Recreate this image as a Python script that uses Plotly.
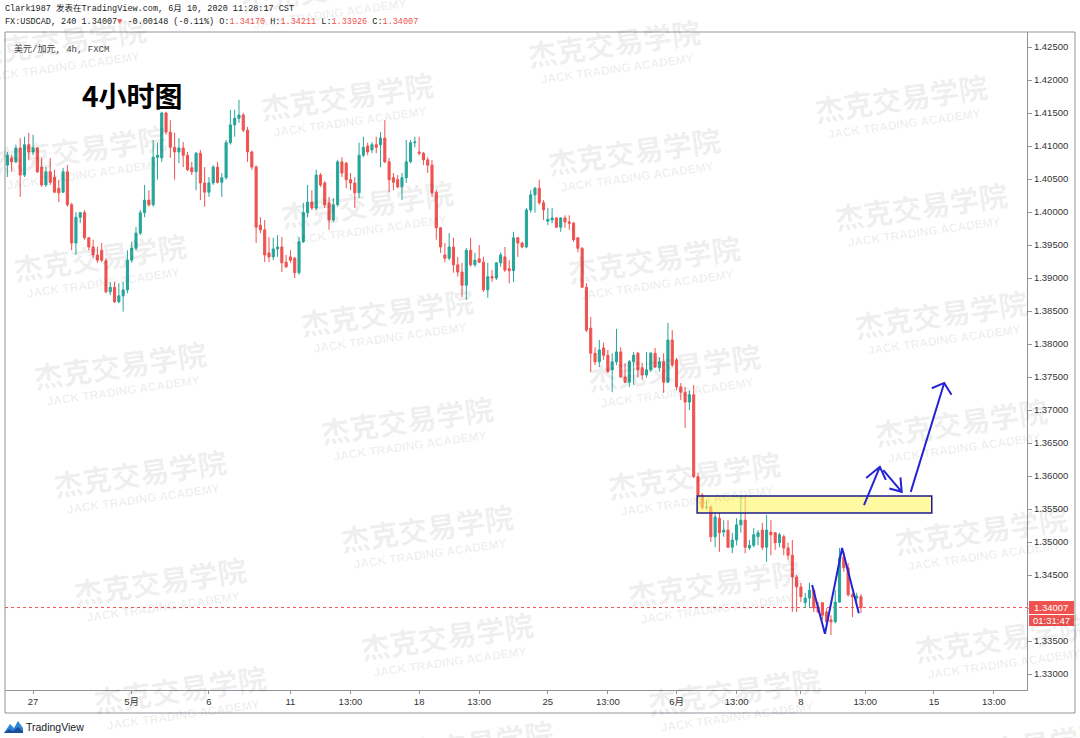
import plotly.graph_objects as go

# ---------------- data (USDCAD 4h, FXCM) ----------------
opens = [1.4071,1.4082,1.4076,1.4097,1.4056,1.4102,1.4091,1.4097,1.4068,1.4041,
         1.4061,1.4053,1.4036,1.4030,1.4061,1.4011,1.3953,1.3992,1.3999,1.3961,
         1.3947,1.3935,1.3942,1.3926,1.3879,1.3886,1.3864,1.3873,1.3882,1.3927,
         1.3945,1.3968,1.3999,1.4018,1.4011,1.4083,1.4082,1.4150,1.4121,1.4098,
         1.4091,1.4097,1.4086,1.4067,1.4061,1.4089,1.4044,1.4030,1.4044,1.4068,
         1.4045,1.4052,1.4105,1.4132,1.4142,1.4147,1.4124,1.4091,1.4068,1.3980,
         1.3973,1.3938,1.3932,1.3944,1.3947,1.3924,1.3932,1.3930,1.3908,1.3955,
         1.3999,1.4015,1.4006,1.4056,1.4044,1.4014,1.3988,1.4011,1.4076,1.4074,
         1.4049,1.4044,1.4029,1.4086,1.4100,1.4094,1.4102,1.4102,1.4112,1.4076,
         1.4052,1.4049,1.4038,1.4052,1.4076,1.4105,1.4091,1.4089,1.4079,1.4071,
         1.4030,1.3976,1.3935,1.3930,1.3947,1.3920,1.3909,1.3889,1.3942,1.3920,
         1.3929,1.3924,1.3882,1.3902,1.3900,1.3923,1.3932,1.3914,1.3911,1.3961,
         1.3953,1.3947,1.4003,1.4026,1.4036,1.4014,1.3986,1.3988,1.3991,1.3977,
         1.3991,1.3985,1.3983,1.3961,1.3945,1.3886,1.3824,1.3786,1.3773,1.3794,
         1.3783,1.3761,1.3773,1.3788,1.3750,1.3742,1.3773,1.3786,1.3764,1.3753,
         1.3761,1.3786,1.3764,1.3773,1.3742,1.3806,1.3776,1.3735,1.3727,1.3712,
         1.3723,1.3599,1.3571,1.3552,1.3553,1.3508,1.3536,1.3515,1.3518,1.3492,
         1.3503,1.3526,1.3533,1.3491,1.3495,1.3508,1.3518,1.3492,1.3515,1.3514,
         1.3499,1.3508,1.3491,1.3480,1.3447,1.3432,1.3408,1.3415,1.3427,1.3402,
         1.3408,1.3394,1.3382,1.3379,1.3409,1.3477,1.3461,1.3420,1.3415,1.34170]
highs = [1.4091,1.4086,1.4102,1.4112,1.4114,1.4120,1.4117,1.4098,1.4082,1.4068,
         1.4082,1.4064,1.4049,1.4067,1.4071,1.4014,1.4000,1.4000,1.4003,1.3962,
         1.3958,1.3947,1.3953,1.3930,1.3894,1.3894,1.3892,1.3894,1.3942,1.3955,
         1.3977,1.4003,1.4041,1.4033,1.4109,1.4105,1.4152,1.4152,1.4139,1.4120,
         1.4112,1.4106,1.4091,1.4076,1.4091,1.4094,1.4068,1.4053,1.4071,1.4076,
         1.4059,1.4109,1.4155,1.4155,1.4170,1.4150,1.4129,1.4093,1.4071,1.3992,
         1.3988,1.3962,1.3961,1.3965,1.3962,1.3935,1.3942,1.3932,1.3962,1.4014,
         1.4041,1.4033,1.4064,1.4059,1.4047,1.4023,1.4021,1.4079,1.4083,1.4076,
         1.4059,1.4053,1.4105,1.4114,1.4105,1.4106,1.4114,1.4121,1.4139,1.4082,
         1.4059,1.4056,1.4059,1.4109,1.4109,1.4114,1.4114,1.4091,1.4083,1.4079,
         1.4033,1.3977,1.3953,1.3968,1.3961,1.3932,1.3923,1.3945,1.3961,1.3938,
         1.3950,1.3932,1.3923,1.3912,1.3924,1.3939,1.3947,1.3927,1.3970,1.3962,
         1.3955,1.4006,1.4033,1.4038,1.4049,1.4018,1.4006,1.4006,1.3992,1.3992,
         1.3995,1.3995,1.3985,1.3962,1.3947,1.3892,1.3841,1.3795,1.3806,1.3802,
         1.3791,1.3786,1.3823,1.3795,1.3771,1.3776,1.3788,1.3788,1.3771,1.3788,
         1.3788,1.3794,1.3780,1.3786,1.3832,1.3821,1.3779,1.3741,1.3735,1.3730,
         1.3738,1.3605,1.3574,1.3564,1.3556,1.3544,1.3544,1.3533,1.3533,1.3514,
         1.3536,1.3570,1.3568,1.3503,1.3521,1.3518,1.3529,1.3541,1.3533,1.3515,
         1.3514,1.3511,1.3499,1.3503,1.3450,1.3438,1.3423,1.3438,1.3430,1.3409,
         1.3409,1.3400,1.3389,1.3427,1.3491,1.3485,1.3468,1.3423,1.3423,1.34211]
lows = [1.4053,1.4061,1.4074,1.4023,1.4053,1.4079,1.4086,1.4059,1.4038,1.4038,
        1.4041,1.4029,1.4015,1.4029,1.4008,1.3942,1.3935,1.3983,1.3958,1.3942,
        1.3930,1.3923,1.3924,1.3877,1.3874,1.3862,1.3862,1.3849,1.3877,1.3923,
        1.3942,1.3965,1.3992,1.4008,1.4008,1.4049,1.4076,1.4117,1.4082,1.4049,
        1.4074,1.4068,1.4062,1.4056,1.4033,1.4018,1.4008,1.4023,1.4041,1.4043,
        1.4023,1.4049,1.4102,1.4114,1.4135,1.4121,1.4076,1.4064,1.3953,1.3968,
        1.3924,1.3924,1.3927,1.3932,1.3909,1.3915,1.3923,1.3900,1.3905,1.3953,
        1.3992,1.4003,1.4003,1.4038,1.4006,1.3973,1.3985,1.4008,1.4053,1.4036,
        1.4033,1.4006,1.4021,1.4083,1.4086,1.4089,1.4089,1.4068,1.4074,1.4030,
        1.4033,1.4036,1.4018,1.4044,1.4074,1.4098,1.4086,1.4071,1.4059,1.4023,
        1.3958,1.3938,1.3924,1.3927,1.3908,1.3902,1.3871,1.3867,1.3917,1.3917,
        1.3923,1.3879,1.3870,1.3894,1.3897,1.3917,1.3909,1.3892,1.3894,1.3932,
        1.3945,1.3945,1.3999,1.3999,1.4011,1.3988,1.3980,1.3983,1.3976,1.3970,
        1.3976,1.3973,1.3955,1.3939,1.3885,1.3818,1.3758,1.3768,1.3765,1.3776,
        1.3756,1.3727,1.3768,1.3749,1.3741,1.3735,1.3738,1.3749,1.3746,1.3749,
        1.3758,1.3764,1.3758,1.3726,1.3741,1.3765,1.3730,1.3715,1.3673,1.3700,
        1.3597,1.3564,1.3549,1.3549,1.3500,1.3492,1.3485,1.3508,1.3491,1.3483,
        1.3495,1.3514,1.3483,1.3488,1.3492,1.3495,1.3488,1.3470,1.3480,1.3488,
        1.3492,1.3480,1.3473,1.3394,1.3394,1.3409,1.3400,1.3400,1.3394,1.3392,
        1.3382,1.3374,1.3359,1.3377,1.3408,1.3455,1.3417,1.3386,1.3406,1.33926]
closes = [1.4086,1.4076,1.4097,1.4056,1.4102,1.4091,1.4097,1.4061,1.4041,1.4061,
          1.4045,1.4030,1.4029,1.4061,1.4011,1.3953,1.3992,1.3999,1.3961,1.3947,
          1.3935,1.3927,1.3927,1.3879,1.3886,1.3864,1.3873,1.3882,1.3927,1.3945,
          1.3968,1.3999,1.4018,1.4011,1.4083,1.4086,1.4150,1.4121,1.4098,1.4091,
          1.4097,1.4086,1.4064,1.4061,1.4089,1.4044,1.4030,1.4044,1.4068,1.4045,
          1.4052,1.4105,1.4132,1.4142,1.4147,1.4124,1.4091,1.4068,1.3977,1.3973,
          1.3935,1.3932,1.3944,1.3947,1.3923,1.3917,1.3927,1.3908,1.3955,1.3999,
          1.4015,1.4006,1.4056,1.4041,1.4011,1.3988,1.4011,1.4076,1.4059,1.4049,
          1.4044,1.4029,1.4086,1.4098,1.4091,1.4102,1.4098,1.4112,1.4076,1.4049,
          1.4045,1.4038,1.4052,1.4076,1.4105,1.4106,1.4089,1.4079,1.4071,1.4029,
          1.3976,1.3947,1.3930,1.3947,1.3920,1.3909,1.3889,1.3942,1.3920,1.3927,
          1.3924,1.3882,1.3902,1.3900,1.3923,1.3935,1.3912,1.3911,1.3961,1.3953,
          1.3947,1.4003,1.4026,1.4036,1.4014,1.4003,1.3989,1.3991,1.3977,1.3991,
          1.3985,1.3983,1.3958,1.3945,1.3886,1.3821,1.3786,1.3773,1.3791,1.3783,
          1.3758,1.3773,1.3788,1.3750,1.3742,1.3773,1.3783,1.3761,1.3753,1.3761,
          1.3786,1.3765,1.3773,1.3742,1.3806,1.3768,1.3735,1.3727,1.3712,1.3723,
          1.3599,1.3571,1.3552,1.3553,1.3508,1.3538,1.3514,1.3518,1.3492,1.3503,
          1.3526,1.3533,1.3492,1.3495,1.3511,1.3514,1.3492,1.3518,1.3511,1.3499,
          1.3511,1.3491,1.3480,1.3447,1.3432,1.3417,1.3415,1.3427,1.3400,1.3394,
          1.3389,1.3379,1.3379,1.3409,1.3476,1.3461,1.3420,1.3417,1.3418,1.34007]
candle_index = list(range(len(closes)))

tick_index = [6, 29, 47, 66, 80, 96, 110, 126, 140, 156, 170, 185, 200, 216, 230]
tick_labels = ["27", "5月", "6", "11", "13:00", "18", "13:00", "25", "13:00",
               "6月", "13:00", "8", "13:00", "15", "13:00"]

last_price = 1.34007
countdown = "01:31:47"
zone_low, zone_high = 1.35439, 1.35697
zone_start, zone_end = 160.8, 215.5
zigzag = [(187.6, 1.3435), (190.6, 1.3361), (194.6, 1.3491), (198.5, 1.3392)]
arrows = [  # shaft start, tip, wing1, wing2
    ((199.7, 1.3556), (203.4, 1.3614), (200.2, 1.3597), (204.8, 1.3594)),
    ((204.2, 1.3609), (208.5, 1.3576), (205.6, 1.3581), (208.2, 1.3598)),
    ((210.6, 1.3576), (218.4, 1.3741), (215.5, 1.3733), (220.1, 1.3723)),
]

# ---------------- styling ----------------
W, H = 1080, 738
L, R, T, B = 5, 53, 32, 48
PW, PH = W - L - R, H - T - B
UP, DOWN = "#26a69a", "#ef5350"
FRAME = "#8f939c"
BLUE = "#2424d4"
MONO = "Liberation Mono, DejaVu Sans Mono, Noto Sans CJK SC, monospace"
SANS = "Liberation Sans, Arial, Noto Sans CJK SC, sans-serif"
WM = "rgba(0,0,0,0.075)"


def px(x):
    return (x - L) / PW


def py(y):
    return (H - B - y) / PH


fig = go.Figure()
fig.add_trace(go.Candlestick(
    x=candle_index, open=opens, high=highs, low=lows, close=closes,
    increasing=dict(line=dict(color=UP, width=1), fillcolor=UP),
    decreasing=dict(line=dict(color=DOWN, width=1), fillcolor=DOWN),
    whiskerwidth=0, hoverinfo="skip", showlegend=False))

shapes = []
# current price dotted line
shapes.append(dict(type="line", xref="paper", yref="y", x0=0, x1=1,
                   y0=last_price, y1=last_price,
                   line=dict(color=DOWN, width=1, dash="dot"), layer="below"))
# yellow zone
shapes.append(dict(type="rect", xref="x", yref="y", x0=zone_start, x1=zone_end,
                   y0=zone_low, y1=zone_high, fillcolor="rgba(255,245,100,0.6)",
                   line=dict(color="#1c1c8c", width=1.5), layer="above"))
# zigzag
path = "M " + " L ".join(f"{a},{b}" for a, b in zigzag)
shapes.append(dict(type="path", xref="x", yref="y", path=path,
                   line=dict(color=BLUE, width=2)))
for s, t, w1, w2 in arrows:
    p = f"M {s[0]},{s[1]} L {t[0]},{t[1]} M {w1[0]},{w1[1]} L {t[0]},{t[1]} L {w2[0]},{w2[1]}"
    shapes.append(dict(type="path", xref="x", yref="y", path=p,
                       line=dict(color=BLUE, width=2)))
# outer frame
shapes.append(dict(type="rect", xref="paper", yref="paper", x0=px(5), x1=px(1075),
                   y0=py(713), y1=py(32), line=dict(color=FRAME, width=1)))
# price label boxes
shapes.append(dict(type="rect", xref="paper", yref="paper", x0=px(1029), x1=px(1074),
                   y0=py(614), y1=py(601), fillcolor=DOWN, line=dict(width=0)))
shapes.append(dict(type="rect", xref="paper", yref="paper", x0=px(1029), x1=px(1074),
                   y0=py(626), y1=py(615), fillcolor=DOWN, line=dict(width=0)))
# TradingView logo icon
icon = [(4, 733), (10, 724), (14, 728), (18, 721), (23, 728), (23, 733)]
shapes.append(dict(type="path", xref="paper", yref="paper",
                   path="M " + " L ".join(f"{px(a)},{py(b)}" for a, b in icon) + " Z",
                   fillcolor="#2f86d6", line=dict(width=0)))
icon2 = [(4, 733), (9, 729), (13, 731), (18, 727), (23, 731), (23, 733)]
shapes.append(dict(type="path", xref="paper", yref="paper",
                   path="M " + " L ".join(f"{px(a)},{py(b)}" for a, b in icon2) + " Z",
                   fillcolor="#1b4f9c", line=dict(width=0)))

ann = []
# watermarks
for m in range(-1, 7):
    for n in range(-2, 4):
        cx = 347 + 20 * m + 287 * n
        cy = 95 + 108 * m + 55 * n
        if -90 < cx < 1170 and -20 < cy < 765:
            ann.append(dict(xref="paper", yref="paper", x=px(cx), y=py(cy),
                            xanchor="center", yanchor="middle",
                            text="<b>杰克交易学院</b>", showarrow=False, textangle=-8,
                            font=dict(family="Noto Sans CJK SC", size=29, color=WM)))
            ann.append(dict(xref="paper", yref="paper", x=px(cx + 3), y=py(cy + 27),
                            xanchor="center", yanchor="middle",
                            text="<b>JACK TRADING ACADEMY</b>", showarrow=False,
                            textangle=-8,
                            font=dict(family=SANS, size=12, color=WM)))

red = lambda s: f"<span style='color:{DOWN}'>{s}</span>"
ann.append(dict(xref="paper", yref="paper", x=px(3), y=py(9), xanchor="left",
                yanchor="middle", showarrow=False,
                text="Clark1987 发表在TradingView.com, 6月 10, 2020 11:28:17 CST",
                font=dict(family=MONO, size=8.5, color="#222")))
ann.append(dict(xref="paper", yref="paper", x=px(3), y=py(22), xanchor="left",
                yanchor="middle", showarrow=False,
                text=("FX:USDCAD, 240 1.34007" + red("▼") + " -0.00148 (-0.11%) O:"
                      + red("1.34170") + " H:" + red("1.34211") + " L:" + red("1.33926")
                      + " C:" + red("1.34007")),
                font=dict(family=MONO, size=8.5, color="#222")))
ann.append(dict(xref="paper", yref="paper", x=px(12), y=py(49), xanchor="left",
                yanchor="middle", showarrow=False, text="美元/加元, 4h, FXCM",
                font=dict(family=MONO, size=9, color="#444")))
ann.append(dict(xref="paper", yref="paper", x=px(132), y=py(95), xanchor="center",
                yanchor="middle", showarrow=False, text="<b>4小时图</b>",
                font=dict(family="Noto Sans CJK SC", size=28, color="#000")))
ann.append(dict(xref="paper", yref="paper", x=px(1051), y=py(607.5), xanchor="center",
                yanchor="middle", showarrow=False, text=f"{last_price:.5f}",
                font=dict(family=SANS, size=9.5, color="white")))
ann.append(dict(xref="paper", yref="paper", x=px(1051), y=py(620.5), xanchor="center",
                yanchor="middle", showarrow=False, text=countdown,
                font=dict(family=SANS, size=9.5, color="white")))
ann.append(dict(xref="paper", yref="paper", x=px(24), y=py(727), xanchor="left",
                yanchor="middle", showarrow=False, text="TradingView",
                font=dict(family=SANS, size=10.5, color="#131722")))

fig.update_layout(
    width=W, height=H, margin=dict(l=L, r=R, t=T, b=B),
    paper_bgcolor="white", plot_bgcolor="white", showlegend=False,
    shapes=shapes, annotations=ann,
    xaxis=dict(range=[-0.54, 237.7], tickmode="array", tickvals=tick_index,
               ticktext=tick_labels, showgrid=False, zeroline=False,
               showline=True, linecolor=FRAME, linewidth=1, ticks="outside",
               ticklen=3, tickcolor=FRAME, rangeslider=dict(visible=False),
               tickfont=dict(family=SANS, size=9.5, color="#333"), fixedrange=True),
    yaxis=dict(side="right", range=[1.327576, 1.427273], tick0=1.33, dtick=0.005,
               tickformat=".5f", showgrid=False, zeroline=False, showline=True,
               linecolor=FRAME, linewidth=1, ticks="outside", ticklen=4,
               tickcolor=FRAME, tickfont=dict(family=SANS, size=9.5, color="#333"),
               fixedrange=True),
)

fig.write_html("out.html", config={"displayModeBar": False},
               post_script="document.body.style.margin='0';document.body.style.overflow='hidden';")
